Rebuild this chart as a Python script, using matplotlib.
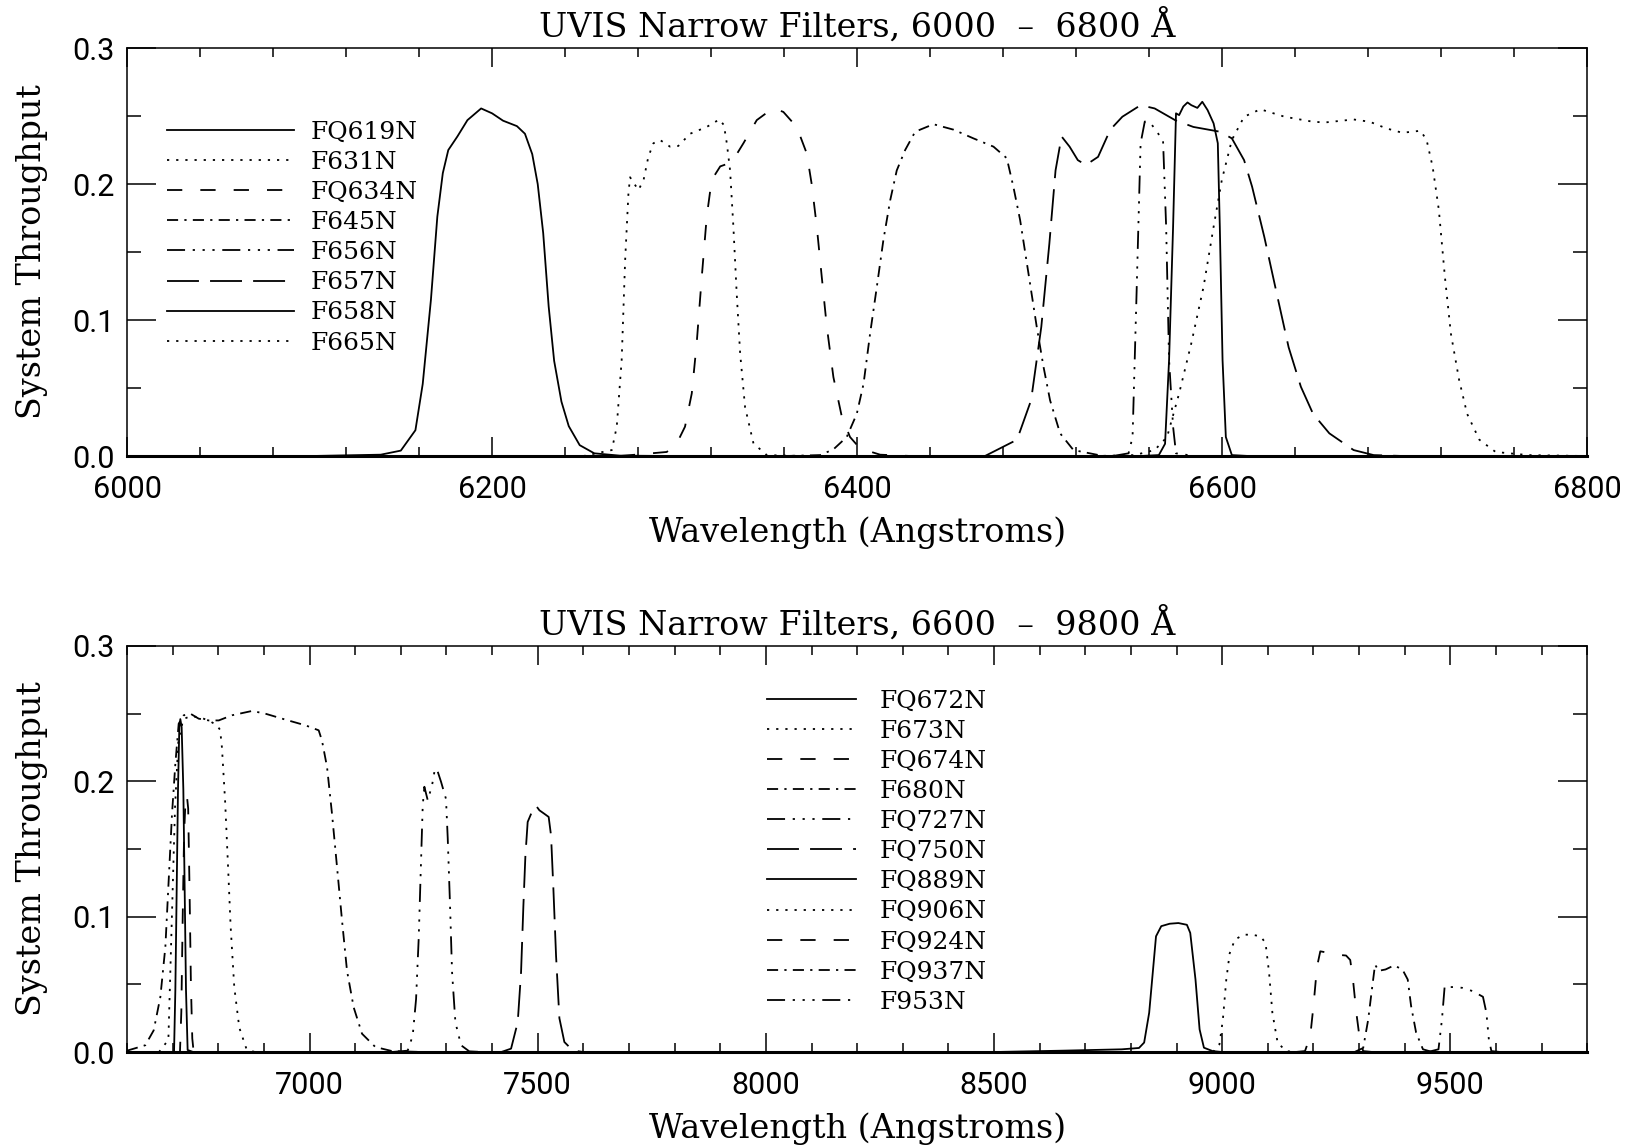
import matplotlib
matplotlib.use('Agg')
import matplotlib.pyplot as plt
from matplotlib.ticker import MultipleLocator, FormatStrFormatter

plt.rcParams['font.family'] = ['Roboto', 'DejaVu Sans']
plt.rcParams['lines.scale_dashes'] = False
SERIF = 'DejaVu Serif'

# IDL linestyles 0..5
styles = ['-',
          (0, (1.6, 5.0)),
          (0, (11, 13)),
          (0, (8, 4.5, 1.6, 4.5)),
          (0, (13, 5.5, 1.6, 5.5, 1.6, 5.5, 1.6, 5.5)),
          (0, (23, 8))]

# ---- top panel: 6000 - 6800 A ----
fq619n_wl = [6000, 6100, 6139, 6150, 6158, 6162, 6166.5, 6170, 6173, 6176, 6181, 6186.5, 6194, 6200, 6206,
             6213.6, 6218, 6222, 6225, 6228, 6231, 6234, 6238, 6242, 6248, 6256, 6270, 6300]
fq619n_t = [0, 0, 0.001, 0.004, 0.019, 0.053, 0.115, 0.176, 0.208, 0.225, 0.235, 0.247, 0.2556, 0.252, 0.2466,
            0.2426, 0.237, 0.222, 0.2, 0.164, 0.11, 0.07, 0.04, 0.022, 0.008, 0.002, 0.0003, 0]

f631n_wl = [6250, 6265.6, 6268.3, 6271, 6272.9, 6274.7, 6275.6, 6278, 6280.2, 6283, 6285.6, 6288.4, 6292, 6297.5,
            6302, 6308.5, 6317.6, 6324.5, 6327, 6328.6, 6330.4, 6332.2, 6334, 6335.9, 6338.6, 6343.2, 6350.5, 6370]
f631n_t = [0, 0.0044, 0.0216, 0.0706, 0.144, 0.193, 0.205, 0.2, 0.1956, 0.203, 0.22, 0.23, 0.2324, 0.2275,
           0.228, 0.237, 0.242, 0.2475, 0.2434, 0.23, 0.21, 0.1686, 0.12, 0.0755, 0.036, 0.0093, 0.0007, 0]

fq634n_wl = [6270, 6295.7, 6301.2, 6305.7, 6309.4, 6312.1, 6314.9, 6317.6, 6320.3, 6325, 6331.3, 6337.7, 6345,
             6354.1, 6359.6, 6366.9, 6372.4, 6375.1, 6377.9, 6380.6, 6383.4, 6387, 6391.6, 6396.1, 6401.6, 6412.6, 6430]
fq634n_t = [0, 0.003, 0.0093, 0.0216, 0.046, 0.083, 0.132, 0.176, 0.203, 0.213, 0.216, 0.23, 0.247,
            0.256, 0.253, 0.242, 0.2225, 0.2, 0.1686, 0.132, 0.095, 0.058, 0.029, 0.014, 0.0056, 0.001, 0]

f645n_wl = [6360, 6379.7, 6387, 6394.3, 6399.8, 6403.5, 6407.1, 6410.8, 6414.4, 6418.1, 6421.7, 6426.3, 6431.8,
            6441.8, 6452.8, 6463.7, 6474.7, 6482, 6485.6, 6489.3, 6493.9, 6498.4, 6502.1, 6505.7, 6511.2, 6518.5, 6535]
f645n_t = [0, 0.0007, 0.0049, 0.014, 0.031, 0.053, 0.09, 0.1245, 0.159, 0.188, 0.21, 0.225, 0.2385,
           0.244, 0.24, 0.2336, 0.2275, 0.219, 0.198, 0.1735, 0.134, 0.095, 0.0657, 0.041, 0.0167, 0.0044, 0]

f656n_wl = [6540, 6548.7, 6550.9, 6553.1, 6555.3, 6557.6, 6560.9, 6564.2, 6567.6, 6569.3, 6570.9, 6573.1, 6574.7, 6585]
f656n_t = [0, 0.002, 0.014, 0.12, 0.23, 0.246, 0.2446, 0.2385, 0.232, 0.1686, 0.0706, 0.0216, 0.002, 0]

f657n_wl = [6470, 6487.6, 6495.3, 6500.9, 6505.3, 6508.7, 6512, 6516.4, 6520.9, 6525.3, 6532, 6538.7, 6545.3,
            6555.3, 6563, 6574.2, 6584.2, 6598.7, 6605.3, 6612, 6616.4, 6623.1, 6629.8, 6636.4, 6643.1, 6649.8,
            6658.7, 6672, 6683, 6700]
f657n_t = [0, 0.012, 0.041, 0.095, 0.156, 0.21, 0.235, 0.2275, 0.2176, 0.214, 0.22, 0.24, 0.2495,
           0.258, 0.2556, 0.247, 0.242, 0.2385, 0.2336, 0.2176, 0.198, 0.161, 0.12, 0.08, 0.051, 0.031,
           0.0167, 0.0044, 0.0007, 0]

f658n_wl = [6555, 6565.3, 6568.7, 6570.9, 6573.1, 6574.7, 6576.4, 6578.7, 6581, 6583.1, 6586.4, 6589.1, 6592,
            6595.3, 6597.6, 6598.7, 6600.2, 6602, 6605.3, 6615]
f658n_t = [0, 0.0007, 0.009, 0.0706, 0.1686, 0.252, 0.2507, 0.257, 0.26, 0.258, 0.256, 0.2605, 0.2544,
           0.2446, 0.23, 0.1686, 0.0706, 0.014, 0.0007, 0]

f665n_wl = [6530, 6552, 6563, 6569.8, 6576.4, 6583.1, 6589.8, 6595.3, 6599.8, 6605.3, 6612, 6620.9, 6634.2,
            6649.8, 6656.4, 6672, 6680.9, 6689.8, 6698.7, 6708.7, 6712, 6715.3, 6718.7, 6722, 6725.3, 6729.8,
            6734.2, 6740.9, 6749.8, 6767.6, 6800]
f665n_t = [0, 0.0007, 0.0044, 0.014, 0.046, 0.083, 0.1245, 0.1686, 0.203, 0.2324, 0.2495, 0.255, 0.2495,
           0.2458, 0.2453, 0.2475, 0.2458, 0.241, 0.2377, 0.2392, 0.2324, 0.2127, 0.181, 0.132, 0.09, 0.056,
           0.031, 0.012, 0.003, 0.0007, 0]

top_names = ['FQ619N', 'F631N', 'FQ634N', 'F645N', 'F656N', 'F657N', 'F658N', 'F665N']
top_wl = [fq619n_wl, f631n_wl, fq634n_wl, f645n_wl, f656n_wl, f657n_wl, f658n_wl, f665n_wl]
top_t = [fq619n_t, f631n_t, fq634n_t, f645n_t, f656n_t, f657n_t, f658n_t, f665n_t]

# ---- bottom panel: 6600 - 9800 A ----
fq672n_wl = [6690, 6703, 6705.9, 6708.8, 6711.7, 6714.6, 6716.8, 6719.7, 6723.4, 6726.3, 6729.2, 6732.8, 6745]
fq672n_t = [0, 0, 0.046, 0.12, 0.194, 0.24, 0.246, 0.24, 0.194, 0.12, 0.046, 0.0015, 0]

f673n_wl = [6670, 6690.6, 6697.9, 6705.2, 6712.5, 6723.4, 6738, 6757, 6779, 6797, 6804, 6808, 6815, 6821,
            6827, 6835, 6846, 6862, 6880]
f673n_t = [0, 0.009, 0.095, 0.181, 0.23, 0.246, 0.248, 0.2475, 0.245, 0.2414, 0.238, 0.225, 0.185, 0.14,
           0.093, 0.048, 0.018, 0.002, 0]

fq674n_wl = [6705, 6716, 6719, 6722, 6725, 6728, 6731, 6734, 6737, 6740, 6743, 6746, 6760]
fq674n_t = [0, 0, 0.03, 0.1, 0.16, 0.185, 0.19, 0.18, 0.12, 0.05, 0.01, 0, 0]

f680n_wl = [6600, 6640, 6658.4, 6673, 6684, 6691.3, 6698.6, 6705.9, 6713.2, 6724.2, 6738.8, 6757, 6779, 6801,
            6830, 6874, 6903, 6947, 6990.8, 7020, 7027.3, 7038.3, 7049.2, 7060.2, 7071.2, 7082.1, 7096.7, 7115,
            7144.2, 7180.7, 7250]
f680n_t = [0.001, 0.005, 0.016, 0.0406, 0.0776, 0.127, 0.176, 0.213, 0.2426, 0.2488, 0.25, 0.2463, 0.245, 0.245,
           0.2488, 0.252, 0.25, 0.2456, 0.2414, 0.2377, 0.23, 0.2106, 0.176, 0.1367, 0.097, 0.06, 0.033, 0.0135,
           0.0037, 0.0007, 0]

fq727n_wl = [7180, 7215, 7226, 7233.4, 7239.2, 7243.6, 7248, 7251.6, 7259, 7268.4, 7273.6, 7278.7, 7288.2, 7299,
             7302.8, 7307.9, 7312.3, 7319.6, 7332, 7350, 7380]
fq727n_t = [0, 0.001, 0.012, 0.039, 0.084, 0.133, 0.182, 0.196, 0.186, 0.197, 0.207, 0.2094, 0.1996, 0.187,
            0.158, 0.108, 0.059, 0.022, 0.005, 0.0005, 0]

fq750n_wl = [7420, 7441.6, 7456.2, 7463.5, 7468.6, 7473, 7478, 7490.5, 7496.3, 7503.7, 7514.6, 7524, 7529.2,
             7534.3, 7540.2, 7547.5, 7558.4, 7576.7, 7600]
fq750n_t = [0, 0.0025, 0.022, 0.059, 0.108, 0.145, 0.17, 0.18, 0.182, 0.1786, 0.176, 0.1737, 0.16,
            0.121, 0.071, 0.025, 0.0074, 0.0012, 0]

fq889n_wl = [8500, 8650, 8780, 8817.7, 8829, 8840, 8847.7, 8855, 8866.5, 8885, 8904, 8922.7, 8930, 8941.5,
             8950.5, 8960, 8979, 9000]
fq889n_t = [0, 0.001, 0.002, 0.003, 0.007, 0.029, 0.058, 0.0855, 0.093, 0.0948, 0.0953, 0.094, 0.088, 0.0536,
            0.0167, 0.0032, 0.0007, 0]

fq906n_wl = [8980, 8994, 9001.5, 9009, 9016.5, 9027.8, 9046.5, 9065, 9084, 9095, 9102.8, 9110, 9121.5, 9140, 9160]
fq906n_t = [0, 0.0057, 0.024, 0.0536, 0.073, 0.083, 0.0867, 0.0867, 0.0855, 0.0806, 0.0585, 0.029, 0.0069,
            0.0007, 0]

fq924n_wl = [9160, 9181.5, 9193, 9200, 9207.8, 9215, 9226.5, 9249, 9271.5, 9280.6, 9286.6, 9294, 9301.6, 9309, 9330]
fq924n_t = [0, 0.0007, 0.0118, 0.034, 0.063, 0.0744, 0.0737, 0.072, 0.0713, 0.068, 0.0536, 0.029, 0.0093,
            0.0007, 0]

fq937n_wl = [9290, 9309, 9320, 9328, 9335, 9343, 9358, 9376.6, 9395, 9406.6, 9414, 9425, 9440, 9459, 9480]
fq937n_t = [0, 0.003, 0.024, 0.046, 0.0646, 0.06, 0.061, 0.064, 0.061, 0.0536, 0.034, 0.0143, 0.002, 0.0002, 0]

f953n_wl = [9450, 9474, 9481.6, 9487.6, 9496.6, 9511.6, 9526.6, 9549, 9571.5, 9579, 9584.4, 9590, 9610]
f953n_t = [0, 0.002, 0.024, 0.0487, 0.048, 0.048, 0.0474, 0.045, 0.0408, 0.029, 0.0093, 0.0007, 0]

bot_names = ['FQ672N', 'F673N', 'FQ674N', 'F680N', 'FQ727N', 'FQ750N',
             'FQ889N', 'FQ906N', 'FQ924N', 'FQ937N', 'F953N']
bot_wl = [fq672n_wl, f673n_wl, fq674n_wl, f680n_wl, fq727n_wl, fq750n_wl,
          fq889n_wl, fq906n_wl, fq924n_wl, fq937n_wl, f953n_wl]
bot_t = [fq672n_t, f673n_t, fq674n_t, f680n_t, fq727n_t, fq750n_t,
         fq889n_t, fq906n_t, fq924n_t, fq937n_t, f953n_t]


def setup(ax, xlim, xmaj, xmin, title):
    ax.set_xlim(*xlim)
    ax.set_ylim(0, 0.3)
    ax.xaxis.set_major_locator(MultipleLocator(xmaj))
    ax.xaxis.set_minor_locator(MultipleLocator(xmin))
    ax.yaxis.set_major_locator(MultipleLocator(0.1))
    ax.yaxis.set_minor_locator(MultipleLocator(0.05))
    ax.yaxis.set_major_formatter(FormatStrFormatter('%.1f'))
    ax.tick_params(which='both', direction='in', top=True, right=True, width=1.1, labelsize=22)
    ax.tick_params(axis='x', which='major', length=13.5, pad=14)
    ax.tick_params(axis='x', which='minor', length=6.8)
    ax.tick_params(axis='y', which='major', length=21, pad=9)
    ax.tick_params(axis='y', which='minor', length=10)
    for s in ['top', 'left', 'right']:
        ax.spines[s].set_linewidth(1.1)
    ax.spines['bottom'].set_linewidth(2.2)
    ax.set_title(title, fontfamily=SERIF, fontsize=24, pad=8)
    ax.set_xlabel('Wavelength (Angstroms)', fontfamily=SERIF, fontsize=24)
    ax.set_ylabel('System Throughput', fontfamily=SERIF, fontsize=24)
    ax.xaxis.set_label_coords(0.5, -0.148)
    ax.yaxis.set_label_coords(-0.054, 0.5)


fig = plt.figure(figsize=(16.37, 11.47), dpi=100)
ax1 = fig.add_axes([0.0776, 0.6024, 0.892, 0.3557])
ax2 = fig.add_axes([0.0776, 0.0828, 0.892, 0.354])

for i in range(len(top_names)):
    ax1.plot(top_wl[i], top_t[i], color='k', lw=1.3, linestyle=styles[i % 6], label=top_names[i])
for i in range(len(bot_names)):
    ax2.plot(bot_wl[i], bot_t[i], color='k', lw=1.3, linestyle=styles[i % 6], label=bot_names[i])

setup(ax1, (6000, 6800), 200, 40, 'UVIS Narrow Filters, 6000  \u2013  6800 \u00c5')
setup(ax2, (6600, 9800), 500, 100, 'UVIS Narrow Filters, 6600  \u2013  9800 \u00c5')

leg_font = {'family': SERIF, 'size': 18}
ax1.legend(loc='upper left', bbox_to_anchor=(0.0274, 0.822), frameon=False, prop=leg_font,
           handlelength=5.08, handletextpad=0.68, labelspacing=0.285, borderpad=0, borderaxespad=0)
ax2.legend(loc='upper left', bbox_to_anchor=(0.438, 0.893), frameon=False, prop=leg_font,
           handlelength=3.56, handletextpad=0.96, labelspacing=0.285, borderpad=0, borderaxespad=0)

fig.savefig('out.png', dpi=100)
